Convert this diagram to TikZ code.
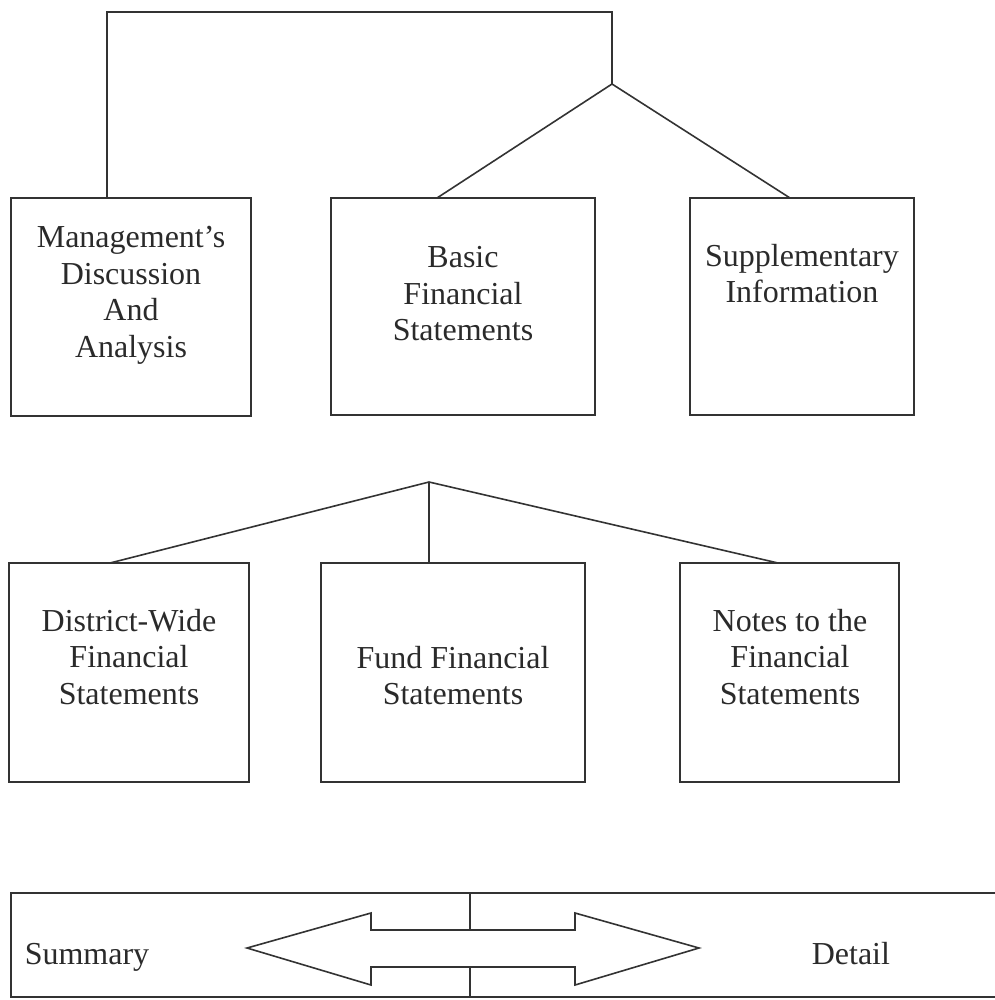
\documentclass[tikz,border=0pt]{standalone}
\usepackage{fontspec}
\setmainfont{Liberation Serif}
\usetikzlibrary{calc}
\definecolor{ink}{HTML}{333333}
\definecolor{txtc}{HTML}{2A2A2A}
\begin{document}
\begin{tikzpicture}[x=1pt,y=-1pt,
  line width=1.6pt, draw=ink,
  box/.style={draw=ink, rectangle, inner sep=0pt, outer sep=0pt, anchor=north west, line width=1.6pt},
  txt/.style={anchor=north, inner sep=0pt, align=center, text=txtc, font=\fontsize{32}{36.5}\selectfont},
  lbl/.style={inner sep=0pt, text=txtc, font=\fontsize{32}{36.5}\selectfont},
  conn/.style={draw=ink, line width=1.6pt}]
\useasboundingbox (0,0) rectangle (994,1000);
% first row boxes
\node[box, minimum width=240pt, minimum height=218pt] (box1) at (11,198) {};
\node[box, minimum width=264pt, minimum height=217pt] (box2) at (331,198) {};
\node[box, minimum width=224pt, minimum height=217pt] (box3) at (690,198) {};
% second row boxes
\node[box, minimum width=240pt, minimum height=219pt] (box4) at (9,563) {};
\node[box, minimum width=264pt, minimum height=219pt] (box5) at (321,563) {};
\node[box, minimum width=219pt, minimum height=219pt] (box6) at (680,563) {};
% texts
\node[txt] (t1) at (131,221.5) {\strut Management’s\\Discussion\\And\\Analysis};
\node[txt] (t2) at (463,241.5) {\strut Basic\\Financial\\Statements};
\node[txt] (t3) at (802,240) {\strut Supplementary\\Information};
\node[txt] (t4) at (129,605) {\strut District-Wide\\Financial\\Statements};
\node[txt] (t5) at (453,642) {\strut Fund Financial\\Statements};
\node[txt] (t6) at (790,605) {\strut Notes to the\\Financial\\Statements};
% junctions
\coordinate (c1) at (107,12);
\coordinate (c2) at (612,12);
\coordinate (j1) at (612,84);
\coordinate (j2) at (429,482);
% top connectors
\draw[conn] ($(box1.north west)+(96,0)$) -- (c1) -- (c2) -- (j1);
\draw[conn] (j1) -- ($(box2.north west)+(106,0)$);
\draw[conn] (j1) -- ($(box3.north west)+(100,0)$);
% second connectors
\draw[conn] (j2) -- ($(box4.north west)+(101,0)$);
\draw[conn] (j2) -- ($(box5.north west)+(108,0)$);
\draw[conn] (j2) -- ($(box6.north west)+(98,0)$);
% bottom bar
\draw[conn] (1000,893) -- (11,893) -- (11,997) -- (1000,997);
\draw[conn] (470,893) -- (470,997);
\draw[conn, fill=white, line join=miter] (247,948) -- (371,913) -- (371,930) -- (575,930) -- (575,913)
  -- (699,948) -- (575,985) -- (575,967) -- (371,967) -- (371,985) -- cycle;
\node[lbl, anchor=base west] (sum) at (24,964) {Summary};
\node[lbl, anchor=base west] (det) at (811,964) {Detail};
\end{tikzpicture}
\end{document}
